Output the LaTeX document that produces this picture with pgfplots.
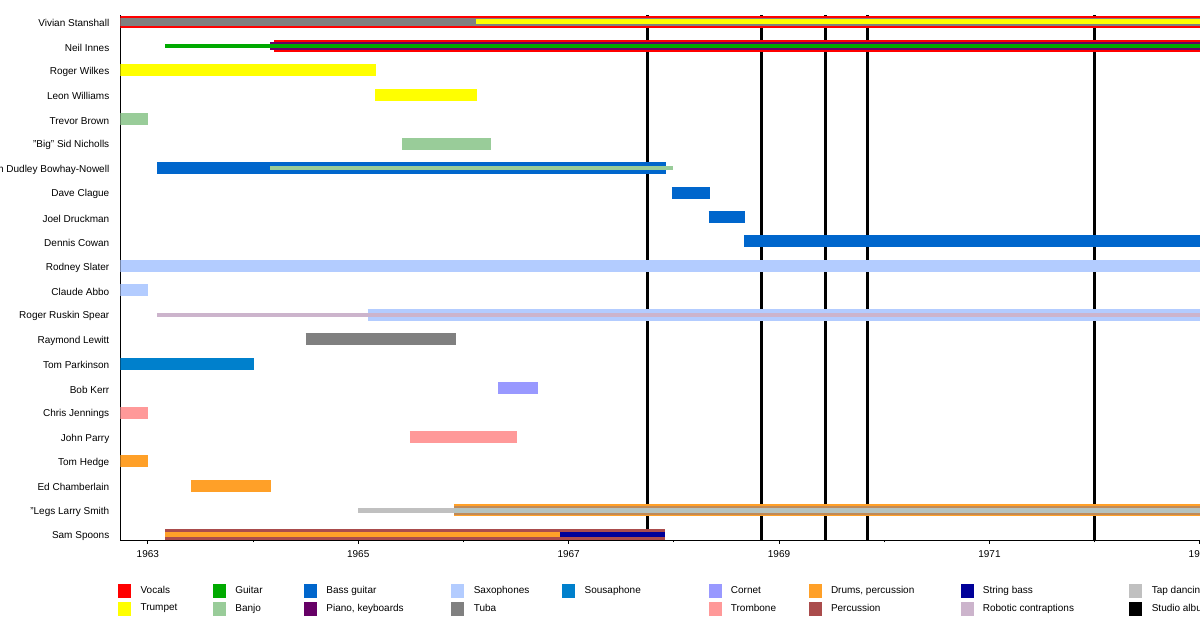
\documentclass[border=0pt]{standalone}
\usepackage{fontspec}
\setmainfont{Liberation Sans}
\usepackage{pgfplots}
\pgfplotsset{compat=1.18}

\definecolor{cVocals}{RGB}{255,0,0}
\definecolor{cTrumpet}{RGB}{255,255,0}
\definecolor{cGuitar}{RGB}{0,170,0}
\definecolor{cBanjo}{RGB}{153,204,153}
\definecolor{cBass}{RGB}{0,102,204}
\definecolor{cPiano}{RGB}{102,0,102}
\definecolor{cSax}{RGB}{179,204,255}
\definecolor{cTuba}{RGB}{128,128,128}
\definecolor{cSousa}{RGB}{0,128,204}
\definecolor{cCornet}{RGB}{153,153,255}
\definecolor{cTrombone}{RGB}{255,153,153}
\definecolor{cDrums}{RGB}{255,160,40}
\definecolor{cPerc}{RGB}{170,76,76}
\definecolor{cString}{RGB}{0,0,153}
\definecolor{cRobot}{RGB}{204,180,204}
\definecolor{cTap}{RGB}{192,192,192}
\definecolor{cTan}{RGB}{192,138,88}
\definecolor{cTapMix}{RGB}{181,195,192}

\pgfplotsset{
  wide/.style={draw=#1, line width=12pt, line cap=butt, forget plot},
  mid/.style={draw=#1, line width=8pt, line cap=butt, forget plot},
  thin/.style={draw=#1, line width=4.5pt, line cap=butt, forget plot},
  album/.style={draw=black, line width=2.6pt, forget plot},
  swatch/.style={legend image code/.code={\fill[#1] (0pt,-6.5pt) rectangle (12pt,6.5pt); \path (22pt,0pt);}},
}

\begin{document}
\begin{tikzpicture}
\path[use as bounding box] (0pt,0pt) rectangle (1200pt,620pt);
\clip (0pt,0pt) rectangle (1200pt,620pt);
\begin{axis}[
  at={(120.5pt,80pt)}, anchor=south west,
  scale only axis, width=1184.55pt, height=525pt,
  xmin=1962.74, xmax=1974, ymin=-0.217, ymax=21.27,
  axis x line=bottom, axis y line=left,
  axis line style={-, line width=0.9pt, black},
  xtick={1963,1965,...,1973},
  minor xtick={1964,1966,...,1974},
  tick align=outside,
  major tick length=4pt, minor tick length=2.5pt,
  x tick style={black, line width=0.8pt},
  x tick label style={/pgf/number format/1000 sep=, yshift=-2.5pt},
  ytick={0,...,21},
  y tick style={draw=none},
  yticklabels={Sam Spoons, "Legs Larry Smith, Ed Chamberlain, Tom Hedge, John Parry,
    Chris Jennings, Bob Kerr, Tom Parkinson, Raymond Lewitt, Roger Ruskin Spear,
    Claude Abbo, Rodney Slater, Dennis Cowan, Joel Druckman, Dave Clague,
    Vernon Dudley Bowhay-Nowell, "Big" Sid Nicholls, Trevor Brown, Leon Williams,
    Roger Wilkes, Neil Innes, Vivian Stanshall},
  /pgf/number format/assume math mode=true,
  tick label style={font=\fontsize{10}{12}\selectfont},
  yticklabel style={xshift=-3.7pt, yshift=-1.5pt},
  legend columns=9,
  legend cell align=left,
  legend style={at={(axis description cs:-0.0021,-0.0838)}, anchor=north west,
    draw=none, fill=none, inner sep=0pt, column sep=0pt, row sep=4pt,
    font=\fontsize{10}{12}\selectfont, nodes={inner sep=0pt}},
]
% legend, row by row
\addlegendimage{swatch=cVocals}   \addlegendentry{\makebox[72.4pt][l]{Vocals}}
\addlegendimage{swatch=cGuitar}   \addlegendentry{\makebox[68.6pt][l]{Guitar}}
\addlegendimage{swatch=cBass}     \addlegendentry{\makebox[125pt][l]{Bass guitar}}
\addlegendimage{swatch=cSax}      \addlegendentry{\makebox[88.5pt][l]{Saxophones}}
\addlegendimage{swatch=cSousa}    \addlegendentry{\makebox[123.8pt][l]{Sousaphone}}
\addlegendimage{swatch=cCornet}   \addlegendentry{\makebox[77.7pt][l]{Cornet}}
\addlegendimage{swatch=cDrums}    \addlegendentry{\makebox[129.5pt][l]{Drums, percussion}}
\addlegendimage{swatch=cString}   \addlegendentry{\makebox[146.5pt][l]{String bass}}
\addlegendimage{swatch=cTap}      \addlegendentry{\makebox[60pt][l]{Tap dancing}}
\addlegendimage{swatch=cTrumpet}  \addlegendentry{Trumpet}
\addlegendimage{swatch=cBanjo}    \addlegendentry{Banjo}
\addlegendimage{swatch=cPiano}    \addlegendentry{Piano, keyboards}
\addlegendimage{swatch=cTuba}     \addlegendentry{Tuba}
\addlegendimage{empty legend}     \addlegendentry{}
\addlegendimage{swatch=cTrombone} \addlegendentry{Trombone}
\addlegendimage{swatch=cPerc}     \addlegendentry{Percussion}
\addlegendimage{swatch=cRobot}    \addlegendentry{Robotic contraptions}
\addlegendimage{swatch=black}     \addlegendentry{Studio albums}

% studio albums
\addplot[album] coordinates {(1967.75,-0.217) (1967.75,21.27)};
\addplot[album] coordinates {(1968.835,-0.217) (1968.835,21.27)};
\addplot[album] coordinates {(1969.444,-0.217) (1969.444,21.27)};
\addplot[album] coordinates {(1969.84,-0.217) (1969.84,21.27)};
\addplot[album] coordinates {(1972.0,-0.217) (1972.0,21.27)};

% Vivian Stanshall
\addplot[wide=cVocals] coordinates {(1962.74,21) (1974,21)};
\addplot[mid=cTuba] coordinates {(1962.74,21) (1974,21)};
\addplot[draw=cTrumpet, line width=5pt, forget plot] coordinates {(1966.12,21) (1974,21)};
% Neil Innes
\addplot[wide=cVocals] coordinates {(1964.2,20) (1974,20)};
\addplot[mid=cPiano] coordinates {(1964.16,20) (1974,20)};
\addplot[thin=cGuitar] coordinates {(1963.165,20) (1974,20)};
% Roger Wilkes, Leon Williams
\addplot[wide=cTrumpet] coordinates {(1962.74,19) (1965.17,19)};
\addplot[wide=cTrumpet] coordinates {(1965.16,18) (1966.13,18)};
% Trevor Brown, Sid Nicholls
\addplot[wide=cBanjo] coordinates {(1962.74,17) (1963.0,17)};
\addplot[wide=cBanjo] coordinates {(1965.42,16) (1966.26,16)};
% Vernon Dudley Bowhay-Nowell
\addplot[wide=cBass] coordinates {(1963.09,15) (1967.93,15)};
\addplot[thin=cBanjo] coordinates {(1964.16,15) (1967.99,15)};
% Dave Clague, Joel Druckman, Dennis Cowan
\addplot[wide=cBass] coordinates {(1967.98,14) (1968.34,14)};
\addplot[wide=cBass] coordinates {(1968.33,13) (1968.68,13)};
\addplot[wide=cBass] coordinates {(1968.67,12) (1974,12)};
% Rodney Slater, Claude Abbo
\addplot[wide=cSax] coordinates {(1962.74,11) (1974,11)};
\addplot[wide=cSax] coordinates {(1962.74,10) (1963.0,10)};
% Roger Ruskin Spear
\addplot[wide=cSax] coordinates {(1965.09,9) (1974,9)};
\addplot[draw=cRobot, line width=3.5pt, forget plot] coordinates {(1963.09,9) (1974,9)};
% Raymond Lewitt, Tom Parkinson, Bob Kerr
\addplot[wide=cTuba] coordinates {(1964.50,8) (1965.93,8)};
\addplot[wide=cSousa] coordinates {(1962.74,7) (1964.01,7)};
\addplot[wide=cCornet] coordinates {(1966.33,6) (1966.71,6)};
% Chris Jennings, John Parry
\addplot[wide=cTrombone] coordinates {(1962.74,5) (1963.0,5)};
\addplot[wide=cTrombone] coordinates {(1965.49,4) (1966.51,4)};
% Tom Hedge, Ed Chamberlain
\addplot[wide=cDrums] coordinates {(1962.74,3) (1963.0,3)};
\addplot[wide=cDrums] coordinates {(1963.41,2) (1964.17,2)};
% Legs Larry Smith
\addplot[wide=cDrums] coordinates {(1965.91,1) (1974,1)};
\addplot[draw=cTan, line width=9pt, forget plot] coordinates {(1965.91,1) (1974,1)};
\addplot[draw=cTap, line width=4.5pt, forget plot] coordinates {(1965.0,1) (1965.91,1)};
\addplot[draw=cTapMix, line width=5pt, forget plot] coordinates {(1965.91,1) (1974,1)};
% Sam Spoons
\addplot[wide=cPerc] coordinates {(1963.165,0) (1967.92,0)};
\addplot[thin=cDrums] coordinates {(1963.165,0) (1966.92,0)};
\addplot[thin=cString] coordinates {(1966.92,0) (1967.92,0)};
\end{axis}
\end{tikzpicture}
\end{document}
